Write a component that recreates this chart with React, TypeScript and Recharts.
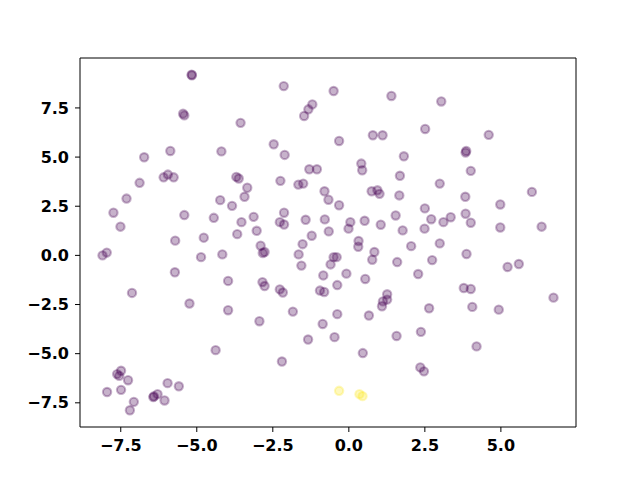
import { ScatterChart, Scatter, XAxis, YAxis, ReferenceArea } from 'recharts';

// cluster 0 (purple) points
const purpleX = [
  -5.17, -5.16, -5.45, -5.41, -3.56, -5.87, -4.19, -6.73, -5.95, -6.09,
  -5.76, -3.7, -3.62, -6.88, -3.34, -7.31, -4.23, -3.43, -3.84, -7.74,
  -5.41, -4.44, -7.51, -3.53, -3.67, -4.77, -5.71, -2.14, -0.5, 1.4,
  -1.2, -1.33, -1.47, 0.79, 1.11, -0.32, -2.47, -2.11, 1.81, 0.41,
  0.44, -1.3, -1.05, 1.68, -2.25, -1.66, -1.5, -0.8, 0.75, 0.94,
  1.01, 1.66, -0.67, -0.32, -3.13, -2.13, -2.27, -2.13, -1.42, -0.79,
  0.05, -0.01, 0.52, 1.05, 1.54, 1.77, -3.03, -1.22, -0.66, -2.9,
  -1.52, 0.32, 0.31, 2.05, 3.04, 2.51, 4.6, 3.86, 3.84, 4.01,
  2.99, 6.02, 3.83, 4.98, 2.5, 2.71, 3.11, 3.35, 3.84, 4.01,
  2.49, 4.98, 6.34, 2.99, -8.1, -7.96, -4.86, -4.16, -5.72, -3.97,
  -7.13, -5.24, -3.97, -4.38, -7.49, -7.62, -7.55, -7.26, -7.95, -7.49,
  -7.07, -7.2, -6.41, -6.43, -6.29, -5.96, -5.59, -6.06, -2.83, -2.77,
  -1.65, -1.56, -0.5, -0.4, -0.6, 0.84, 0.77, 1.59, -0.84, -0.08,
  0.54, -0.38, -2.84, -2.77, -2.27, -2.17, -0.95, -0.81, 1.26, 1.12,
  1.26, 1.09, -1.84, -0.38, 0.66, -2.94, -0.86, -1.34, -0.47, 1.57,
  0.46, -2.2, 3.87, 2.74, 2.28, 5.22, 5.59, 3.78, 4.01, 6.73,
  2.64, 4.06, 4.93, 2.37, 4.2, 2.35, 2.47,
];
const purpleY = [
  9.19, 9.16, 7.21, 7.12, 6.74, 5.31, 5.29, 4.99, 4.11, 3.97,
  3.97, 3.99, 3.91, 3.69, 3.44, 2.89, 2.81, 2.98, 2.52, 2.17,
  2.05, 1.91, 1.46, 1.69, 1.08, 0.9, 0.75, 8.61, 8.36, 8.11,
  7.68, 7.43, 7.09, 6.11, 6.11, 5.82, 5.65, 5.11, 5.04, 4.67,
  4.33, 4.38, 4.38, 4.05, 3.79, 3.6, 3.65, 3.26, 3.26, 3.31,
  3.13, 3.05, 2.83, 2.55, 1.96, 2.17, 1.69, 1.57, 1.81, 1.83,
  1.69, 1.36, 1.76, 1.56, 2.03, 1.27, 1.25, 1.0, 1.22, 0.49,
  0.57, 0.73, 0.44, 0.47, 7.83, 6.43, 6.13, 5.31, 5.23, 4.3,
  3.65, 3.23, 2.98, 2.59, 2.39, 1.84, 1.69, 1.94, 2.12, 1.66,
  1.36, 1.42, 1.46, 0.61, 0.0, 0.14, -0.09, 0.05, -0.86, -1.3,
  -1.91, -2.45, -2.79, -4.82, -5.87, -6.04, -6.13, -6.35, -6.95, -6.84,
  -7.45, -7.88, -7.17, -7.21, -7.06, -6.5, -6.66, -7.38, 0.12, 0.17,
  0.05, -0.52, -0.09, -0.09, -0.46, 0.17, -0.22, -0.34, -1.02, -0.93,
  -1.2, -1.51, -1.36, -1.56, -1.73, -1.89, -1.79, -1.86, -1.98, -2.34,
  -2.25, -2.59, -2.86, -2.99, -3.06, -3.35, -3.49, -4.28, -4.16, -4.1,
  -4.97, -5.4, 0.07, -0.24, -0.95, -0.59, -0.44, -1.66, -1.71, -2.15,
  -2.69, -2.62, -2.76, -3.89, -4.63, -5.7, -5.9,
];

// cluster 1 (yellow)
const yellowX = [-0.32, 0.35, 0.45];
const yellowY = [-6.89, -7.06, -7.16];

const xTicks = [-7.5, -5, -2.5, 0, 2.5, 5];
const yTicks = [-7.5, -5, -2.5, 0, 2.5, 5, 7.5];
const xDomain = [-8.84, 7.47];
const yDomain = [-8.73, 10.04];

const purpleData = purpleX.map((x, i) => ({ x, y: purpleY[i] }));
const yellowData = yellowX.map((x, i) => ({ x, y: yellowY[i] }));

const fmt = (v: number) => (v < 0 ? '\u2212' : '') + Math.abs(v).toFixed(1);

const tickStyle = {
  fontFamily: 'DejaVu Sans',
  fontWeight: 'bold',
  fontSize: 16,
  fill: '#000',
};

const dot = (color: string) => (props: any) => (
  <circle
    cx={props.cx}
    cy={props.cy}
    r={4.17}
    fill={color}
    fillOpacity={0.3}
    stroke={color}
    strokeOpacity={0.3}
    strokeWidth={2.08}
  />
);

export default function App() {
  return (
    <div style={{ position: 'absolute', left: 0, top: 0, width: 640, height: 480, background: '#fff' }}>
      <ScatterChart width={640} height={480} margin={{ top: 58, right: 64, bottom: 0, left: 0 }}>
        <XAxis
          type="number"
          dataKey="x"
          domain={xDomain}
          ticks={xTicks}
          tickFormatter={fmt}
          allowDataOverflow
          height={53}
          axisLine={false}
          tickLine={{ stroke: '#000', strokeWidth: 1 }}
          tickSize={5}
          tickMargin={8}
          tick={tickStyle}
        />
        <YAxis
          type="number"
          dataKey="y"
          domain={yDomain}
          ticks={yTicks}
          tickFormatter={fmt}
          allowDataOverflow
          width={80}
          axisLine={false}
          tickLine={{ stroke: '#000', strokeWidth: 1 }}
          tickSize={5}
          tickMargin={6}
          tick={tickStyle}
        />
        <Scatter data={purpleData} shape={dot('#440154')} isAnimationActive={false} />
        <Scatter data={yellowData} shape={dot('#fde725')} isAnimationActive={false} />
        <ReferenceArea
          x1={xDomain[0]}
          x2={xDomain[1]}
          y1={yDomain[0]}
          y2={yDomain[1]}
          fill="none"
          stroke="#000"
          strokeWidth={1}
          fillOpacity={0}
        />
      </ScatterChart>
    </div>
  );
}
